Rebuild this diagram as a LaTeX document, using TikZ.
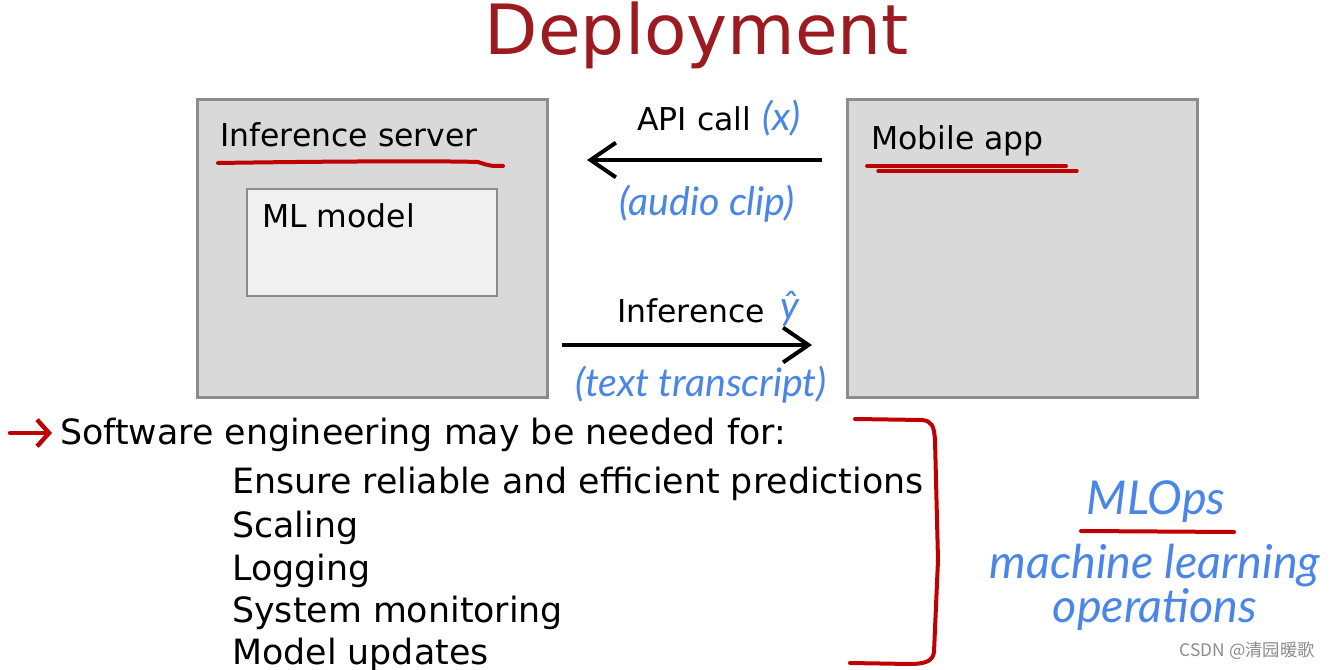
\documentclass[tikz,border=0pt]{standalone}
\usepackage{fontspec}
\setmainfont{DejaVu Sans}
\newfontfamily\hand{Lato}
\newfontfamily\cjkfont{Noto Sans CJK SC}
\usetikzlibrary{arrows.meta}
\definecolor{dred}{RGB}{155,27,32}
\definecolor{lred}{RGB}{192,0,0}
\definecolor{hblue}{RGB}{74,134,232}
\definecolor{boxfill}{RGB}{217,217,217}
\definecolor{boxline}{RGB}{140,140,140}
\definecolor{innerfill}{RGB}{240,240,240}
\begin{document}
\begin{tikzpicture}[x=0.75pt,y=-0.75pt,
 box/.style={draw=boxline, line width=2.25pt, fill=boxfill, minimum width=262.5pt, minimum height=222.75pt, inner sep=0, outer sep=0},
 inbox/.style={draw=boxline, line width=2pt, fill=innerfill, minimum width=187.5pt, minimum height=80.25pt, inner sep=0, outer sep=0},
 lbl/.style={anchor=base west, inner sep=0, font=\fontsize{23.6}{28}\selectfont},
 item/.style={anchor=base west, inner sep=0, font=\fontsize{26.1}{31}\selectfont},
 hw/.style={inner sep=0, text=hblue, font=\hand\itshape\fontsize{29.5}{34}\selectfont},
 hwbig/.style={inner sep=0, text=hblue, font=\hand\itshape\fontsize{35}{40}\selectfont},
 flow/.style={line width=3pt, -{Straight Barb[length=19pt,width=26pt,line width=3pt]}},
 redpen/.style={draw=lred, line width=3pt, line cap=round, line join=round}]

\useasboundingbox[fill=white] (0,0) rectangle (1331,670);

\node[anchor=base, inner sep=0, text=dred, font=\fontsize{52}{62}\selectfont] (title) at (697,55) {Deployment};

% boxes
\node[box] (server) at (372,248.5) {};
\node[inbox] (model) at (372,242.5) {};
\node[box] (mobile) at (1022,248.5) {};
\node[lbl] (serverlbl) at (220,147) {Inference server};
\node[lbl] (modellbl) at (262,228) {ML model};
\node[lbl] (mobilelbl) at (871,150) {Mobile app};

% underlines
\draw[redpen] (218,163) .. controls (350,161) and (450,161) .. (478,162) .. controls (490,166) .. (503,166);
\draw[redpen, line width=2.8pt] (867,166) -- (1066,166);
\draw[redpen, line width=2.5pt] (878,171) -- (1077,171);

% arrows
\coordinate (apiy) at (700,160);
\coordinate (infy) at (700,345);
\draw[flow, shorten <=18.75pt, shorten >=30pt] (mobile.west |- apiy) -- (server.east |- apiy);
\draw[flow, shorten <=11.25pt, shorten >=26.25pt] (server.east |- infy) -- (mobile.west |- infy);

\node[lbl] (api) at (637,131) {API call};
\node[hw, anchor=base west] (xlbl) at (762,131) {(x)};
\node[hw] (audio) at (707,204) {(audio clip)};
\node[lbl] (inf) at (617,322) {Inference};
\node[hw, anchor=base west] (yhat) at (780,320) {ŷ};
\node[hw] (text) at (701,385) {(text transcript)};

% software list
\node[item] (sw) at (60,444) {Software engineering may be needed for:};
\coordinate (rs) at (10,433);
\draw[redpen, line width=3.3pt, shorten >=6pt, -{Straight Barb[length=9pt,width=20pt,line width=3.3pt]}] (rs) -- (rs -| sw.west);
\node[item] (i1) at (232,493) {Ensure reliable and efficient predictions};
\node[item] (i2) at (232,537) {Scaling};
\node[item] (i3) at (232,580) {Logging};
\node[item] (i4) at (232,622) {System monitoring};
\node[item] (i5) at (232,664) {Model updates};

% bracket
\draw[redpen] (855,419) -- (922,420) .. controls (932,421) and (934,426) .. (935,440) -- (938,560) -- (934,652) .. controls (933,661) and (925,664) .. (910,664) -- (850,663);

% MLOps
\node[hwbig] (mlops) at (1156,502) {MLOps};
\draw[redpen] (1081,531) -- (1234,532);
\node[hwbig] (ml) at (1155,566) {machine learning};
\node[hwbig] (ops) at (1155,609) {operations};

\node[anchor=east, inner sep=0, text=black!45, font=\cjkfont\fontsize{13}{15}\selectfont] (wm) at (1315,651) {CSDN @清园暖歌};
\end{tikzpicture}
\end{document}
